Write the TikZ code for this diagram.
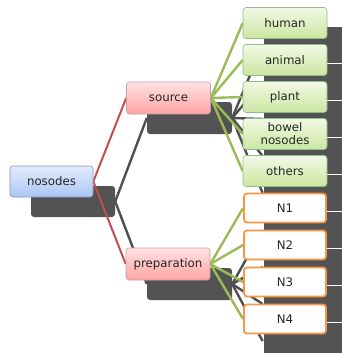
\documentclass[tikz,border=0pt]{standalone}
\usepackage{fontspec}
\setmainfont{DejaVu Sans}
\definecolor{darkbox}{HTML}{535353}
\definecolor{redline}{HTML}{C0504D}
\definecolor{greenline}{HTML}{9BBB59}
\definecolor{grayline}{HTML}{4F4F4F}
\definecolor{orangeln}{HTML}{F79646}
\definecolor{txt}{HTML}{262626}
\definecolor{gtop}{HTML}{F2F9E6}
\definecolor{gbot}{HTML}{CBE6A0}
\definecolor{ptop}{HTML}{FFE2E2}
\definecolor{pbot}{HTML}{FFA4A4}
\definecolor{btop}{HTML}{E2ECFD}
\definecolor{bbot}{HTML}{ABC6F5}
\pgfdeclarelayer{shadowlayer}
\pgfdeclarelayer{connlayer}
\pgfsetlayers{shadowlayer,connlayer,main}
\begin{document}
\begin{tikzpicture}[x=1pt,y=-1pt,
  base/.style={rounded corners=3pt, inner sep=0pt, align=center, text=txt,
    font=\fontsize{11.8}{13}\selectfont},
  bluebox/.style={base, draw=blue!25!gray!70, line width=0.6pt, top color=btop, bottom color=bbot,
    minimum width=83pt, minimum height=31pt},
  pinkbox/.style={base, draw=red!25!gray!60, line width=0.6pt, top color=ptop, bottom color=pbot,
    minimum width=84pt, minimum height=32pt},
  greenbox/.style={base, draw=green!25!gray!70, line width=0.6pt, top color=gtop, bottom color=gbot,
    minimum width=84pt, minimum height=31pt},
  orangebox/.style={base, draw=orangeln, line width=1.8pt, fill=white,
    minimum width=82pt, minimum height=29pt},
  shadebox/.style={rounded corners=3pt, fill=darkbox, draw=none, inner sep=0pt},
  rightshade/.style={fill=darkbox, draw=white, line width=0.8pt, inner sep=0pt,
    minimum width=84pt, minimum height=36.5pt},
  redconn/.style={draw=redline, line width=2pt},
  greenconn/.style={draw=greenline, line width=2.4pt},
  grayconn/.style={draw=grayline, line width=2.4pt}]
\useasboundingbox (0,0) rectangle (342,353);

% front hierarchy
\node[bluebox] (nos) at (51.5,181.5) {nosodes};
\node[pinkbox] (src) at (168.5,98) {source};
\node[pinkbox] (prep) at (168,264) {preparation};
\node[greenbox] (human) at (285,23) {human};
\node[greenbox] (animal) at (285,60) {animal};
\node[greenbox] (plant) at (285,97) {plant};
\node[greenbox] (bowel) at (285,134) {bowel\\nosodes};
\node[greenbox] (others) at (285,171) {others};
\node[orangebox] (n1) at (285,208) {N1};
\node[orangebox] (n2) at (285,245) {N2};
\node[orangebox] (n3) at (285,282) {N3};
\node[orangebox] (n4) at (285,319) {N4};

\begin{pgfonlayer}{connlayer}
\draw[redconn] (nos.east) -- (src.west);
\draw[redconn] (nos.east) -- (prep.west);
\foreach \n in {human,animal,plant,bowel,others}{\draw[greenconn] (src.east) -- (\n.west);}
\foreach \n in {n1,n2,n3,n4}{\draw[greenconn] (prep.east) -- (\n.west);}
\end{pgfonlayer}

% background (shadow) hierarchy
\begin{pgfonlayer}{shadowlayer}
\node[shadebox, minimum width=84pt, minimum height=31pt] (dnos) at (73,201.5) {};
\node[shadebox, minimum width=85pt, minimum height=32pt] (dsrc) at (189.5,118) {};
\node[shadebox, minimum width=85pt, minimum height=32pt] (dprep) at (189.5,284) {};
\foreach \i/\c in {1/23,2/60,3/97,4/134,5/171,6/208,7/245,8/282,9/319}{
  \node[rightshade] (d\i) at (305,\c+22) {};
}
\draw[grayconn] (dnos.east) -- (dsrc.west);
\draw[grayconn] (dnos.east) -- (dprep.west);
\foreach \i in {1,...,5}{\draw[grayconn] (dsrc.east) -- (d\i.west);}
\foreach \i in {6,...,9}{\draw[grayconn] (dprep.east) -- (d\i.west);}
\end{pgfonlayer}
\end{tikzpicture}
\end{document}
